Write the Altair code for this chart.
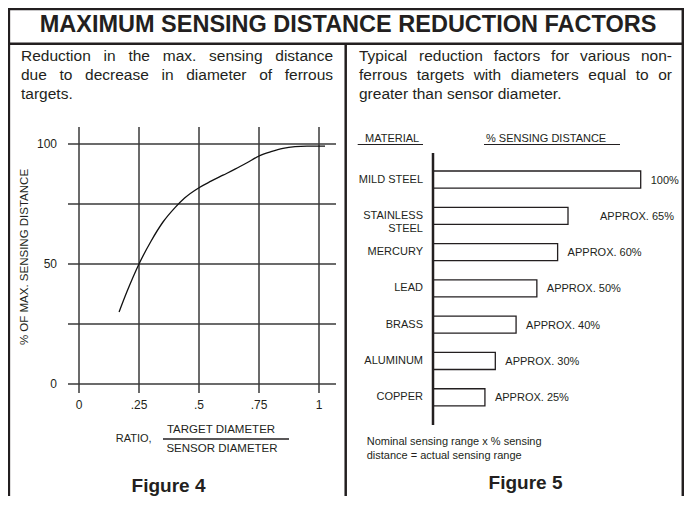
import altair as alt
import pandas as pd

# ---------------- data ----------------
ratio = [0.167, 0.2, 0.25, 0.3, 0.35, 0.4, 0.44, 0.5, 0.55, 0.6, 0.65, 0.7, 0.75, 0.8, 0.85, 0.9, 0.95, 1.025]
pct_max = [30, 38.5, 50, 59.5, 67.5, 73.5, 77.5, 81.8, 84.5, 87, 89.5, 92.2, 95, 96.8, 98.2, 98.9, 99.1, 99.1]

grid_x = [0, 0.25, 0.5, 0.75, 1]
grid_y = [0, 25, 50, 75, 100]
xtick_vals = [0, 0.25, 0.5, 0.75, 1]
xtick_labels = ["0", ".25", ".5", ".75", "1"]
ytick_vals = [0, 50, 100]
ytick_labels = ["0", "50", "100"]

materials = ["MILD STEEL", "STAINLESS\nSTEEL", "MERCURY", "LEAD", "BRASS", "ALUMINUM", "COPPER"]
sensing = [100, 65, 60, 50, 40, 30, 25]
sensing_labels = ["100%", "APPROX. 65%", "APPROX. 60%", "APPROX. 50%", "APPROX. 40%", "APPROX. 30%", "APPROX. 25%"]

TITLE = "MAXIMUM SENSING DISTANCE REDUCTION FACTORS"
LEFT_TEXT = ["Reduction in the max. sensing distance",
             "due to decrease in diameter of ferrous",
             "targets."]
RIGHT_TEXT = ["Typical reduction factors for various non-",
              "ferrous targets with diameters equal to or",
              "greater than sensor diameter."]
NOTE = ["Nominal sensing range x % sensing", "distance = actual sensing range"]

# ---------------- style / layout ----------------
INK = "#231f20"
FONT = "Liberation Sans"
W, H = 676, 488


def P(v):
    """page pixel -> view pixel"""
    return v - 8


AFM = {' ': 278, '%': 889, ',': 278, '-': 333, '.': 278, '=': 584,
       'A': 667, 'B': 667, 'C': 722, 'D': 722, 'E': 667, 'F': 611, 'G': 778, 'H': 722, 'I': 278,
       'J': 500, 'K': 667, 'L': 556, 'M': 833, 'N': 722, 'O': 778, 'P': 667, 'Q': 778, 'R': 722,
       'S': 667, 'T': 611, 'U': 722, 'V': 667, 'W': 944, 'X': 667, 'Y': 667, 'Z': 611,
       'a': 556, 'b': 556, 'c': 500, 'd': 556, 'e': 556, 'f': 278, 'g': 556, 'h': 556, 'i': 222,
       'j': 222, 'k': 500, 'l': 222, 'm': 833, 'n': 556, 'o': 556, 'p': 556, 'q': 556, 'r': 333,
       's': 500, 't': 278, 'u': 556, 'v': 500, 'w': 722, 'x': 500, 'y': 500, 'z': 500}


def tw(s, fs):
    return sum(AFM.get(c, 556) for c in s) * fs / 1000.0


one = pd.DataFrame({"_": [0]})
base = alt.Chart(one)
layers = []


def text(t, x, y, fs, align="left", weight="normal", angle=0):
    kw = dict(text=t, font=FONT, fontSize=fs, align=align, baseline="middle",
              color=INK, fontWeight=weight)
    if angle:
        kw["angle"] = angle
    layers.append(base.mark_text(**kw).encode(x=alt.value(P(x)), y=alt.value(P(y))))


def hline(x1, x2, y, sw=2.5):
    layers.append(base.mark_rule(color=INK, strokeWidth=sw).encode(
        x=alt.value(P(x1)), x2=alt.value(P(x2)), y=alt.value(P(y))))


def vline(x, y1, y2, sw=2.5):
    layers.append(base.mark_rule(color=INK, strokeWidth=sw).encode(
        x=alt.value(P(x)), y=alt.value(P(y1)), y2=alt.value(P(y2))))


def paragraph(lines, left, right, y0, step, fs):
    for i, line in enumerate(lines):
        words = line.split(" ")
        widths = [tw(w, fs) for w in words]
        last = i == len(lines) - 1
        if not last and len(words) > 1:
            gap = (right - left - sum(widths)) / (len(words) - 1)
        else:
            gap = tw(" ", fs)
        x = left
        for w, wd in zip(words, widths):
            text(w, x, y0 + i * step, fs)
            x += wd + gap


# ---------------- frame ----------------
hline(8, 684, 9.0)
hline(8, 684, 43.7)
vline(8.9, 8, 496)
vline(682.8, 8, 496)
vline(345.7, 43.7, 496)
text(TITLE, 348, 24.5, 23.5, align="center", weight="bold")

# ---------------- paragraphs ----------------
paragraph(LEFT_TEXT, 21, 333, 55.5, 19, 15.5)
paragraph(RIGHT_TEXT, 359, 672, 55.5, 19, 15.5)

# ---------------- figure 4 : line chart ----------------
lx = alt.Scale(domain=[0, 1], range=[P(79), P(319)], nice=False, zero=False)
ly = alt.Scale(domain=[0, 100], range=[P(384), P(144)], nice=False, zero=False)

layers.append(alt.Chart(pd.DataFrame({"v": grid_y})).mark_rule(color="#3a3a3a", strokeWidth=1.5).encode(
    y=alt.Y("v:Q", scale=ly, axis=None), x=alt.value(P(68)), x2=alt.value(P(336))))
layers.append(alt.Chart(pd.DataFrame({"v": grid_x})).mark_rule(color="#3a3a3a", strokeWidth=1.5).encode(
    x=alt.X("v:Q", scale=lx, axis=None), y=alt.value(P(127)), y2=alt.value(P(393))))
layers.append(alt.Chart(pd.DataFrame({"ratio": ratio, "pct": pct_max})).mark_line(
    interpolate="monotone", color="#111111", strokeWidth=1.3).encode(
    x=alt.X("ratio:Q", scale=lx, axis=None), y=alt.Y("pct:Q", scale=ly, axis=None)))
layers.append(alt.Chart(pd.DataFrame({"v": ytick_vals, "lab": ytick_labels})).mark_text(
    font=FONT, fontSize=12, align="right", baseline="middle", color=INK).encode(
    y=alt.Y("v:Q", scale=ly, axis=None), x=alt.value(P(57)), text="lab:N"))
layers.append(alt.Chart(pd.DataFrame({"v": xtick_vals, "lab": xtick_labels})).mark_text(
    font=FONT, fontSize=12, align="center", baseline="middle", color=INK).encode(
    x=alt.X("v:Q", scale=lx, axis=None), y=alt.value(P(405)), text="lab:N"))

text("% OF MAX. SENSING DISTANCE", 25, 257, 11.5, align="center", angle=270)
text("RATIO,", 115.7, 439, 11)
text("TARGET DIAMETER", 221, 430, 11.5, align="center")
text("SENSOR DIAMETER", 222, 449, 11.5, align="center")
hline(163, 289, 439, sw=1.5)
text("Figure 4", 168.5, 486, 19, align="center", weight="bold")

# ---------------- figure 5 : bar chart ----------------
bx = alt.Scale(domain=[0, 100], range=[P(433), P(640.7)], nice=False)
by = alt.Scale(domain=materials, range=[P(161.4), P(415.4)], paddingInner=0.53, paddingOuter=0.265)

bars_df = pd.DataFrame({"material": materials, "value": sensing, "label": sensing_labels})

layers.append(alt.Chart(bars_df).mark_bar(fill="white", stroke=INK, strokeWidth=1.3).encode(
    x=alt.X("value:Q", scale=bx, axis=None), y=alt.Y("material:N", scale=by, axis=None)))
layers.append(alt.Chart(pd.DataFrame({"v": [0]})).mark_rule(color=INK, strokeWidth=2.5).encode(
    x=alt.X("v:Q", scale=bx, axis=None), y=alt.value(P(153)), y2=alt.value(P(425))))
layers.append(alt.Chart(bars_df).mark_text(
    font=FONT, fontSize=11, align="right", baseline="middle", color=INK, lineBreak="\n", lineHeight=13).encode(
    y=alt.Y("material:N", scale=by, axis=None), x=alt.value(P(423)), text="material:N"))
layers.append(alt.Chart(bars_df).transform_filter(alt.datum.value != 65).mark_text(
    font=FONT, fontSize=11, align="left", baseline="middle", color=INK, dx=10, dy=1).encode(
    x=alt.X("value:Q", scale=bx, axis=None), y=alt.Y("material:N", scale=by, axis=None), text="label:N"))
layers.append(alt.Chart(bars_df).transform_filter(alt.datum.value == 65).mark_text(
    font=FONT, fontSize=11, align="left", baseline="middle", color=INK, dx=32, dy=1).encode(
    x=alt.X("value:Q", scale=bx, axis=None), y=alt.Y("material:N", scale=by, axis=None), text="label:N"))

text("MATERIAL", 365, 139, 11)
hline(357.7, 423, 144.5, sw=1.2)
text("% SENSING DISTANCE", 486, 139, 11)
hline(484, 620, 144.5, sw=1.2)
text(NOTE[0], 366.7, 442.3, 11)
text(NOTE[1], 366.7, 455.7, 11)
text("Figure 5", 525.5, 483, 19, align="center", weight="bold")

chart = alt.layer(*layers).resolve_scale(x="independent", y="independent").properties(
    width=W, height=H, padding=0, autosize=alt.AutoSizeParams(type="none"),
    background="white").configure_view(stroke=None)

chart.save("out.html", embed_options={"renderer": "svg", "actions": False})
